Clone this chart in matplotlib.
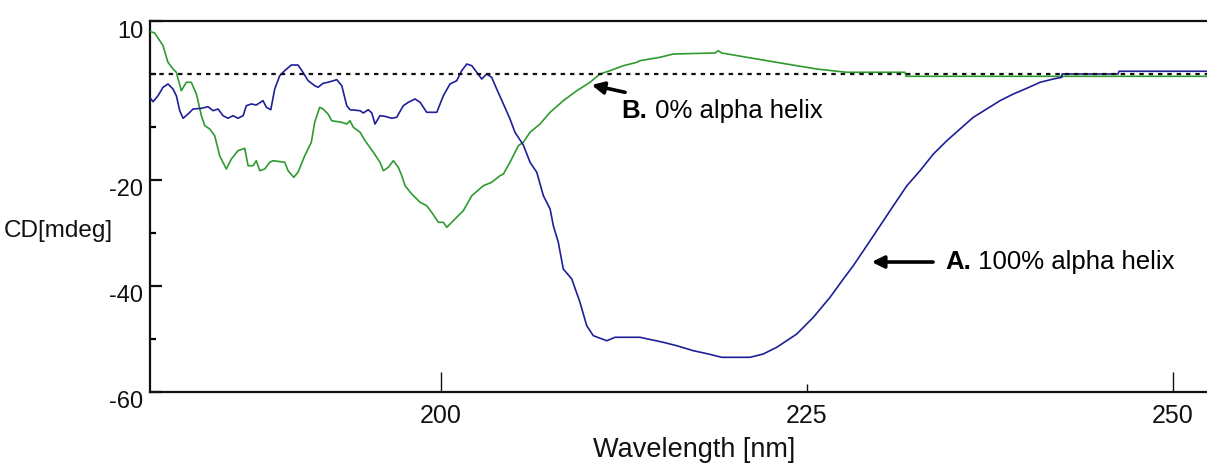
import matplotlib
matplotlib.use("Agg")
import matplotlib.pyplot as plt
from matplotlib import font_manager
from matplotlib.ticker import FixedLocator, FixedFormatter

# Far-UV CD spectra of a peptide: fully helical (A) and non-helical (B)
wavelength_a = [180.10, 180.33, 180.67, 181.01, 181.35, 181.69, 181.92, 182.15, 182.38, 182.72,
                183.06, 183.63, 184.08, 184.43, 184.77, 185.11, 185.45, 185.79, 186.13, 186.48,
                186.70, 187.04, 187.38, 187.84, 188.07, 188.37, 188.64, 188.98, 189.32, 189.77,
                190.23, 190.57, 190.92, 191.37, 191.60, 191.94, 192.28, 192.88, 193.22, 193.56,
                193.78, 194.47, 194.69, 195.03, 195.27, 195.49, 195.83, 196.17, 196.63, 196.97,
                197.42, 197.77, 198.22, 198.57, 199.02, 199.71, 200.16, 200.61, 201.07, 201.41,
                201.76, 202.10, 202.44, 202.78, 203.12, 203.46, 203.80, 204.26, 204.71, 205.05,
                205.62, 206.08, 206.54, 206.99, 207.45, 207.67, 208.01, 208.35, 208.93, 209.49,
                209.95, 210.40, 211.32, 211.89, 213.59, 215.18, 216.10, 217.23, 218.26, 219.17,
                221.11, 222.01, 222.93, 224.30, 225.43, 226.57, 227.48, 228.16, 229.08, 229.99,
                230.90, 231.82, 232.72, 233.63, 234.55, 235.45, 236.36, 237.27, 238.18, 239.09,
                240.01, 240.92, 241.82, 242.40, 242.42, 246.24, 246.31, 252.32]
cd_a = [-4.49, -5.32, -4.19, -2.60, -1.98, -2.92, -4.19, -7.02, -8.45, -7.64,
        -6.70, -6.57, -6.26, -7.02, -6.70, -7.96, -8.45, -7.96, -8.45, -7.96,
        -6.08, -5.75, -5.94, -5.13, -6.38, -6.83, -2.92, -0.42, 0.53, 1.60,
        1.60, 0.23, -1.36, -2.30, -2.60, -1.85, -1.66, -1.17, -2.30, -6.08,
        -6.83, -7.02, -7.45, -6.83, -7.45, -9.53, -7.96, -8.08, -8.45, -8.26,
        -6.08, -5.43, -4.81, -5.43, -7.32, -7.32, -4.19, -1.98, -1.36, 0.53,
        1.79, 1.47, 0.23, -1.04, -0.09, -0.72, -2.92, -5.75, -8.58, -11.09,
        -13.49, -16.75, -18.64, -23.06, -25.57, -28.72, -31.85, -36.89, -38.77, -43.17,
        -47.58, -49.47, -50.42, -49.77, -49.77, -50.72, -51.36, -52.30, -52.92, -53.55,
        -53.55, -52.92, -51.66, -49.15, -46.00, -42.23, -38.77, -36.26, -32.49, -28.72,
        -24.94, -21.17, -18.34, -15.19, -12.68, -10.47, -8.26, -6.70, -5.13, -3.87,
        -2.79, -1.66, -1.04, -0.72, -0.09, -0.09, 0.42, 0.42]

wavelength_b = [180.17, 180.44, 181.01, 181.24, 181.35, 181.69, 181.92, 182.04, 182.26, 182.60,
                182.94, 183.29, 183.63, 183.86, 184.20, 184.54, 184.88, 185.33, 185.68, 186.13,
                186.59, 186.82, 187.16, 187.38, 187.62, 187.96, 188.30, 188.52, 189.32, 189.55,
                189.94, 190.23, 190.69, 191.14, 191.37, 191.71, 191.94, 192.28, 192.53, 193.22,
                193.56, 193.78, 194.01, 194.47, 194.81, 195.38, 195.83, 196.06, 196.40, 196.74,
                197.08, 197.32, 197.54, 198.00, 198.57, 199.02, 199.36, 199.82, 200.16, 200.39,
                200.73, 201.07, 201.52, 202.10, 202.89, 203.46, 204.03, 204.26, 204.71, 205.28,
                205.62, 206.08, 206.76, 207.45, 208.35, 209.27, 210.18, 210.86, 211.54, 212.45,
                213.37, 213.59, 214.96, 215.87, 218.72, 218.94, 219.17, 220.88, 222.25, 223.61,
                225.66, 227.71, 231.69, 231.76, 252.32]
cd_b = [7.89, 7.64, 5.25, 3.06, 2.11, 0.85, 0.23, -1.04, -3.25, -1.66,
        -1.66, -3.87, -7.96, -9.85, -10.47, -11.74, -15.51, -18.02, -16.13, -14.57,
        -14.11, -17.40, -17.40, -16.45, -18.34, -18.02, -16.75, -16.45, -16.75, -18.34,
        -19.58, -18.64, -15.51, -12.98, -9.21, -6.38, -6.70, -7.64, -8.91, -9.21,
        -9.53, -8.91, -10.15, -11.09, -12.68, -14.87, -16.75, -18.34, -17.70, -16.45,
        -17.70, -19.28, -21.17, -22.74, -24.30, -24.94, -26.19, -28.08, -28.08, -29.02,
        -28.08, -27.13, -25.89, -23.06, -21.17, -20.53, -19.28, -18.96, -16.75, -13.62,
        -12.98, -11.09, -9.53, -7.32, -5.13, -3.25, -1.66, -0.09, 0.53, 1.47,
        2.11, 2.42, 3.06, 3.68, 3.87, 4.30, 3.87, 3.06, 2.42, 1.79,
        0.85, 0.23, 0.23, -0.53, -0.53]

x_major_values = [200, 250]
x_major_labels = ["200", "250"]
x_minor_values = [225]
x_minor_labels = ["225"]
y_tick_values = [10, -20, -40, -60]
y_tick_labels = ["10", "-20", "-40", "-60"]
y_minor_values = [0, -10, -30, -50]

label_a = ("A.", " 100% alpha helix")
label_b = ("B.", " 0% alpha helix")

installed = {f.name for f in font_manager.fontManager.ttflist}
sans = "Liberation Sans" if "Liberation Sans" in installed else "DejaVu Sans"
narrow = "Liberation Sans Narrow" if "Liberation Sans Narrow" in installed else sans

W, H = 1207, 467
fig = plt.figure(figsize=(W / 100, H / 100), dpi=100)
ax = fig.add_axes([150 / W, 1 - 391.5 / H, 1 - 150 / W, (391.5 - 20.5) / H])

green = "#2f9a2f"
blue = "#1f1f98"
ax.plot(wavelength_b, cd_b, color=green, lw=1.2, zorder=3)
ax.plot(wavelength_a, cd_a, color=blue, lw=1.2, zorder=3)
ax.axhline(0, color="#111111", lw=1.6, ls=(0, (2, 2.2)), zorder=4)

ax.set_xlim(180.12, 252.32)
ax.set_ylim(-60, 10)

for side in ("left", "bottom", "top"):
    ax.spines[side].set_linewidth(1.6)
    ax.spines[side].set_color("#111111")
ax.spines["right"].set_visible(False)

# x ticks: long at 200/250, short at 225
ax.xaxis.set_major_locator(FixedLocator(x_major_values))
ax.xaxis.set_major_formatter(FixedFormatter(x_major_labels))
ax.xaxis.set_minor_locator(FixedLocator(x_minor_values))
ax.xaxis.set_minor_formatter(FixedFormatter(x_minor_labels))
ax.tick_params(axis="x", which="major", direction="in", length=14.5, width=1.0,
               pad=9, labelsize=18, colors="#111111")
ax.tick_params(axis="x", which="minor", direction="in", length=6, width=1.0,
               pad=9, labelsize=18, colors="#111111")
for t in ax.get_xticklabels(which="both"):
    t.set_fontfamily(sans)

ax.yaxis.set_major_locator(FixedLocator(y_tick_values))
ax.yaxis.set_major_formatter(FixedFormatter(y_tick_labels))
ax.yaxis.set_minor_locator(FixedLocator(y_minor_values))
ax.tick_params(axis="y", which="major", direction="in", length=8.8, width=1.6,
               pad=5, labelsize=17, colors="#111111")
ax.tick_params(axis="y", which="minor", direction="in", length=4.4, width=1.6)
for t in ax.get_yticklabels():
    t.set_fontfamily(narrow)
    t.set_verticalalignment("top")

ax.set_xlabel("Wavelength [nm]", fontsize=19.5, fontfamily=sans, color="#111111")
ax.xaxis.set_label_coords((694 - 150) / (W - 150), -(450 - 391.5) / 371)
ax.xaxis.label.set_verticalalignment("center")

ax.set_ylabel("CD[mdeg]", fontsize=17.5, fontfamily=narrow, rotation=0, color="#111111")
ax.yaxis.set_label_coords((58 - 150) / (W - 150), (391.5 - 231) / 371)
ax.yaxis.label.set_horizontalalignment("center")
ax.yaxis.label.set_verticalalignment("center")

arrow_kw = dict(arrowstyle="-|>", color="black", lw=2.6, mutation_scale=18,
                shrinkA=0, shrinkB=0)

# Arrow and label for the helical spectrum
ax.annotate("", xy=(229.42, -35.57), xytext=(233.61, -35.57), arrowprops=arrow_kw)
ta = ax.text(234.43, -35.57, label_a[0], fontsize=18.5, fontweight="bold",
             fontfamily=sans, va="center", ha="left")
ax.annotate(label_a[1], xy=(1, 0), xycoords=ta, fontsize=18.5, fontfamily=sans,
            va="bottom", ha="left")

# Arrow and label for the unstructured spectrum
ax.annotate("", xy=(210.29, -2.17), xytext=(212.57, -3.55), arrowprops=arrow_kw)
tb = ax.text(212.34, -7.02, label_b[0], fontsize=18.5, fontweight="bold",
             fontfamily=sans, va="center", ha="left")
ax.annotate(label_b[1], xy=(1, 0), xycoords=tb, fontsize=18.5, fontfamily=sans,
            va="bottom", ha="left")

fig.savefig("out.png", dpi=100)
